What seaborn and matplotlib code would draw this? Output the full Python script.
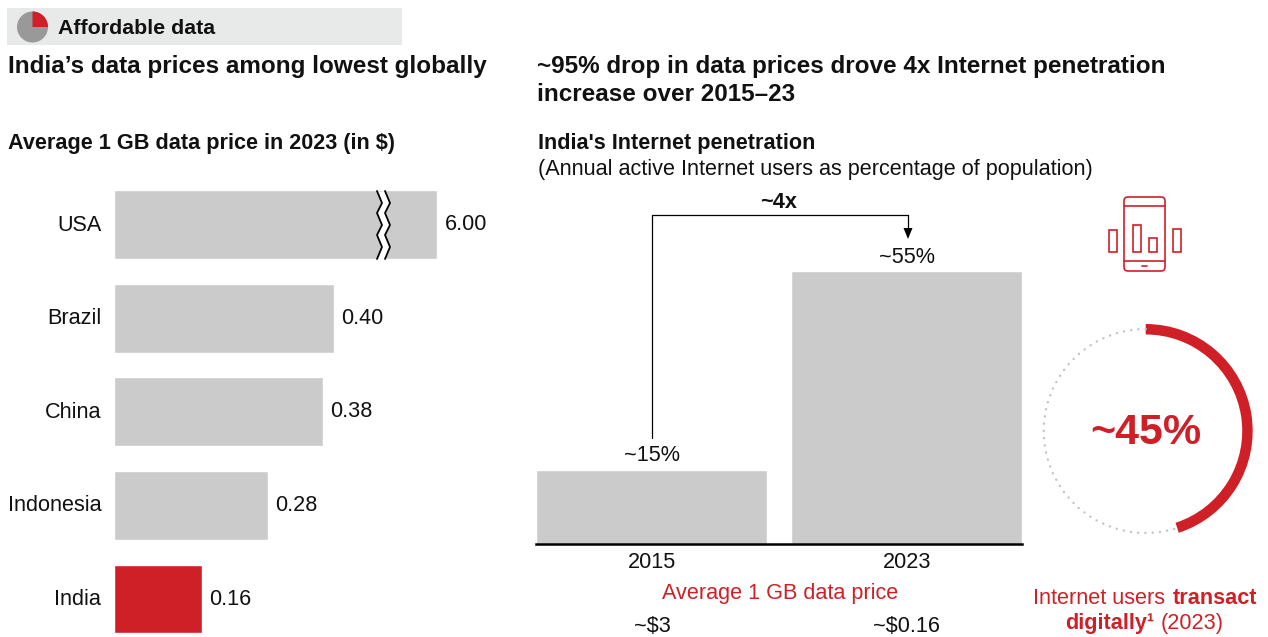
import numpy as np
import pandas as pd
import matplotlib
matplotlib.use("Agg")
import matplotlib.pyplot as plt
from matplotlib.patches import Arc, FancyBboxPatch, Rectangle, Wedge
from matplotlib.transforms import ScaledTranslation
import seaborn as sns

# Values
countries = ["USA", "Brazil", "China", "Indonesia", "India"]
prices = [6.00, 0.40, 0.38, 0.28, 0.16]
years = ["2015", "2023"]
penetration = [15, 55]
year_prices = ["~$3", "~$0.16"]
digital_share = [45, 55]

W, H = 1268, 637
RED = "#CF2027"
GREY = "#CBCBCB"
BODY = 15.6

sns.set_theme(style="white")
plt.rcParams["font.family"] = ["Liberation Sans", "DejaVu Sans"]
plt.rcParams["text.color"] = "#111111"

fig = plt.figure(figsize=(W / 100, H / 100), dpi=100, facecolor="white")


def px_axes(x0, y0, x1, y1):
    # axes from a box given in image pixels (y going down)
    return fig.add_axes([x0 / W, 1 - y1 / H, (x1 - x0) / W, (y1 - y0) / H])


# Left chart: bar for USA is broken, so the scale is squeezed above the break
BREAK = 0.45
SQUEEZE = 0.025


def forward(x):
    x = np.asarray(x, dtype=float)
    return np.where(x <= BREAK, x, BREAK + (x - BREAK) * SQUEEZE)


def inverse(x):
    x = np.asarray(x, dtype=float)
    return np.where(x <= BREAK, x, BREAK + (x - BREAK) / SQUEEZE)


ax_left = px_axes(114.2, 177.9, 500, 637)
left_df = pd.DataFrame({"country": countries, "price": prices})
sns.barplot(data=left_df, x="price", y="country", hue="country", ax=ax_left,
            palette=[GREY, GREY, GREY, GREY, RED], dodge=False, width=0.735,
            saturation=1, legend=False)
ax_left.set_xscale("function", functions=(forward, inverse))
ax_left.set_xlim(0, float(inverse(385.8 / 549)))
ax_left.set_ylim(4.406, -0.5)
for c in ax_left.containers:
    ax_left.bar_label(c, fmt="%.2f", padding=5.2, fontsize=BODY, color="#111111")
ax_left.set_xlabel("")
ax_left.set_ylabel("")
ax_left.set_xticks([])
ax_left.tick_params(axis="y", length=0, pad=9.3, labelsize=BODY, labelcolor="#111111")
lift = ScaledTranslation(0, 2 / 100, fig.dpi_scale_trans)
for lab in ax_left.get_yticklabels():
    lab.set_transform(lab.get_transform() + lift)
sns.despine(ax=ax_left, left=True, bottom=True)
ax_left.patch.set_alpha(0)

# Right chart
ax_right = px_axes(536.1, 200, 1022.3, 544)
right_df = pd.DataFrame({"year": years, "share": penetration})
sns.barplot(data=right_df, x="year", y="share", ax=ax_right, color=GREY,
            width=0.905, saturation=1)
ax_right.set_xlim(-0.4525, 1.4525)
ax_right.set_ylim(0, 344 / (273 / 55))
for c in ax_right.containers:
    ax_right.bar_label(c, fmt="~%g%%", padding=2.2, fontsize=BODY, color="#111111")
ax_right.set_xlabel("")
ax_right.set_ylabel("")
ax_right.set_yticks([])
ax_right.tick_params(axis="x", length=0, pad=6, labelsize=BODY, labelcolor="#111111")
sns.despine(ax=ax_right, left=True)
ax_right.spines["bottom"].set_color("black")
ax_right.spines["bottom"].set_linewidth(1.8)
ax_right.patch.set_alpha(0)

# Ring with the digital share
ax_ring = px_axes(1038.7, 324, 1252.7, 538)
ax_ring.pie(digital_share, startangle=90, counterclock=False, radius=1,
            colors=[RED, "none"], wedgeprops={"width": 0.098, "linewidth": 0})
ax_ring.set_xlim(-1, 1)
ax_ring.set_ylim(-1, 1)
ax_ring.add_patch(Arc((0, 0), 1.906, 1.906, theta1=90,
                      theta2=90 + 360 * digital_share[1] / 100,
                      color="#C4C4C4", lw=1.8, linestyle=(0, (0.01, 2.9)),
                      capstyle="round"))
ax_ring.text(0, -0.015, "~45%", color=RED, fontsize=31, fontweight="bold",
             ha="center", va="center")

# Everything else sits on an overlay in pixel coordinates
ov = fig.add_axes([0, 0, 1, 1], zorder=5)
ov.set_xlim(0, W)
ov.set_ylim(H, 0)
ov.axis("off")

# Header strip
ov.add_patch(Rectangle((7, 8), 395, 37, facecolor="#E8E9E9", edgecolor="none"))
ov.add_patch(Wedge((32.5, 27), 15.5, 0, 360, facecolor="#999999", edgecolor="none"))
ov.add_patch(Wedge((32.5, 27), 15.5, -90, 0, facecolor=RED, edgecolor="none"))
ov.text(58, 27, "Affordable data", fontsize=15.4, fontweight="bold", va="center_baseline")

TITLE = dict(fontsize=17.45, fontweight="bold", va="center_baseline")
ov.text(8, 64, "India\u2019s data prices among lowest globally", **TITLE)
ov.text(537, 64, "~95% drop in data prices drove 4x Internet penetration", **TITLE)
ov.text(537, 92, "increase over 2015\u201323", **TITLE)
SUB = dict(fontsize=BODY, fontweight="bold", va="center_baseline")
ov.text(8, 140.5, "Average 1 GB data price in 2023 (in $)", **SUB)
ov.text(538, 140.5, "India's Internet penetration", **SUB)
ov.text(538, 167, "(Annual active Internet users as percentage of population)", fontsize=BODY,
        va="center_baseline")

# Break marks on the USA bar
zig_y = np.array([191, 203, 213, 225, 235, 247, 259])
zig_x = np.array([377, 382, 377, 382, 377, 382, 377])
ov.fill_betweenx(zig_y, zig_x, zig_x + 8, color="white", lw=0)
ov.plot(zig_x, zig_y, color="black", lw=1.3)
ov.plot(zig_x + 8, zig_y, color="black", lw=1.3)

# ~4x bracket
ov.plot([652, 652, 908, 908], [438, 215, 215, 230], color="black", lw=0.9)
ov.fill([903.5, 912.5, 908], [228, 228, 239], color="black", lw=0)
ov.text(779, 200, "~4x", fontsize=BODY, fontweight="bold", ha="center", va="center_baseline")

# Prices under the years
ov.text(780, 590.5, "Average 1 GB data price", color=RED, fontsize=BODY, ha="center",
        va="center_baseline")
for xc, label in zip([652, 907], year_prices):
    ov.text(xc, 624.5, label, fontsize=BODY, ha="center", va="center_baseline")

# Phone icon
ICON = dict(facecolor="none", edgecolor=RED, lw=1.2)
ov.add_patch(FancyBboxPatch((1127, 200), 35, 68, boxstyle="round,pad=3,rounding_size=4", **ICON))
ov.plot([1124, 1165], [205.5, 205.5], color=RED, lw=1.2)
ov.plot([1124, 1165], [261, 261], color=RED, lw=1.2)
ov.plot([1142, 1147], [266, 266], color=RED, lw=1.2)
for x0, top in zip([1109, 1133, 1149, 1173], [230, 224.5, 237.5, 229]):
    ov.add_patch(Rectangle((x0, top), 8, 252 - top, **ICON))

# Caption below the ring
ov.text(1165, 596, "Internet users", color=RED, fontsize=BODY, ha="right", va="center_baseline")
ov.text(1172.5, 596, "transact", color=RED, fontsize=BODY, fontweight="bold", va="center_baseline")
ov.text(1154, 621, "digitally\u00b9", color=RED, fontsize=BODY, fontweight="bold", ha="right",
        va="center_baseline")
ov.text(1161, 621, "(2023)", color=RED, fontsize=BODY, va="center_baseline")

fig.savefig("out.png", dpi=100)
